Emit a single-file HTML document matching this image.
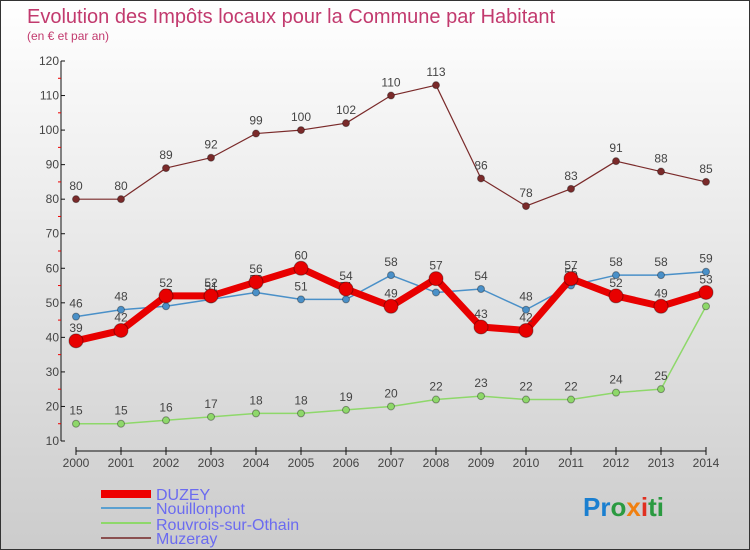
<!DOCTYPE html>
<html><head><meta charset="utf-8"><style>
body{margin:0}
#c{width:748px;height:548px;border:1px solid #333;background:linear-gradient(#fff,#ccc);position:relative;overflow:hidden;font-family:"Liberation Sans",sans-serif}
</style></head><body>
<div id="c">
<svg id="s" width="748" height="548" style="position:absolute;left:0;top:0">
<text x="26" y="22" font-size="20" fill="#c23a6e">Evolution des Impôts locaux pour la Commune par Habitant</text>
<text x="26" y="39" font-size="12" fill="#c23a6e">(en € et par an)</text>
<g id="axes"></g><g id="series"></g>
<g>
<line x1="100" y1="493" x2="150" y2="493" stroke="#e00" stroke-width="8"/>
<text x="155" y="499" font-size="16" fill="#6b6bf0">DUZEY</text>
<line x1="100" y1="507" x2="150" y2="507" stroke="#5ba0d0" stroke-width="2"/>
<text x="155" y="513" font-size="16" fill="#6b6bf0">Nouillonpont</text>
<line x1="100" y1="522" x2="150" y2="522" stroke="#8ed86a" stroke-width="2"/>
<text x="155" y="529" font-size="16" fill="#6b6bf0">Rouvrois-sur-Othain</text>
<line x1="100" y1="537" x2="150" y2="537" stroke="#8a5050" stroke-width="2"/>
<text x="155" y="543" font-size="16" fill="#6b6bf0">Muzeray</text>
</g>
<text x="582" y="515" font-size="26" font-weight="bold"><tspan fill="#1a7fd0">Pr</tspan><tspan fill="#2a9a40">o</tspan><tspan fill="#f08010">x</tspan><tspan fill="#e03020">i</tspan><tspan fill="#2a9a40">ti</tspan></text>
</svg>
</div>
<script>
const years=[2000,2001,2002,2003,2004,2005,2006,2007,2008,2009,2010,2011,2012,2013,2014];
const duzey=[39,42,52,52,56,60,54,49,57,43,42,57,52,49,53];
const nouillonpont=[46,48,49,51,53,51,51,58,53,54,48,55,58,58,59];
const rouvrois=[15,15,16,17,18,18,19,20,22,23,22,22,24,25,49];
const muzeray=[80,80,89,92,99,100,102,110,113,86,78,83,91,88,85];
const yTicks=[10,20,30,40,50,60,70,80,90,100,110,120];
const NS="http://www.w3.org/2000/svg";
const X=i=>75+i*45, Y=v=>440-(v-10)*380/110;
function mk(t,a,p){const e=document.createElementNS(NS,t);for(const k in a)e.setAttribute(k,a[k]);p.appendChild(e);return e;}
const ax=document.getElementById('axes'), sg=document.getElementById('series');
let l=mk('line',{x1:60,y1:60,x2:60,y2:440,stroke:'#111'},ax);


yTicks.forEach(v=>{
  let t=mk('line',{x1:60,y1:Y(v),x2:64,y2:Y(v),stroke:'#111'},ax);
  
  
  let tx=mk('text',{x:58,y:Y(v)+4,'font-size':12,fill:'#444','text-anchor':'end'},ax);tx.textContent=v;
  
  
  if(v<120){let m=mk('line',{x1:57,y1:Y(v+5),x2:60,y2:Y(v+5),stroke:'#e00'},ax);
  
  }
});
l=mk('line',{x1:75,y1:450,x2:705,y2:450,stroke:'#111'},ax);


years.forEach((y,i)=>{
  let t=mk('line',{x1:X(i),y1:446,x2:X(i),y2:454,stroke:'#111'},ax);
  
  
  let tx=mk('text',{x:X(i),y:466,'font-size':12,fill:'#444','text-anchor':'middle'},ax);tx.textContent=y;
  
  
});
function series(name,data,color,w,r){
  const g=mk('g',{},sg);
  
  
  const p=mk('polyline',{points:data.map((v,i)=>X(i)+','+Y(v)).join(' '),fill:'none',stroke:color,'stroke-width':w,'stroke-linejoin':'round'},g);
  
  
  data.forEach((v,i)=>{
    const c=mk('circle',{cx:X(i),cy:Y(v),r:r,fill:color,stroke:'rgba(0,0,0,0.35)'},g);
    
    
    const t=mk('text',{x:X(i),y:Y(v)-9,'font-size':12,fill:'#444','text-anchor':'middle'},g);t.textContent=v;
    
    
  });
}
series('muzeray',muzeray,'#7a2a2a',1.2,3.5);
series('rouvrois',rouvrois,'#8ed86a',1.5,3.5);
series('nouillonpont',nouillonpont,'#4a90c8',1.5,3.5);
series('duzey',duzey,'#e80000',7,7);
</script>
</body></html>
